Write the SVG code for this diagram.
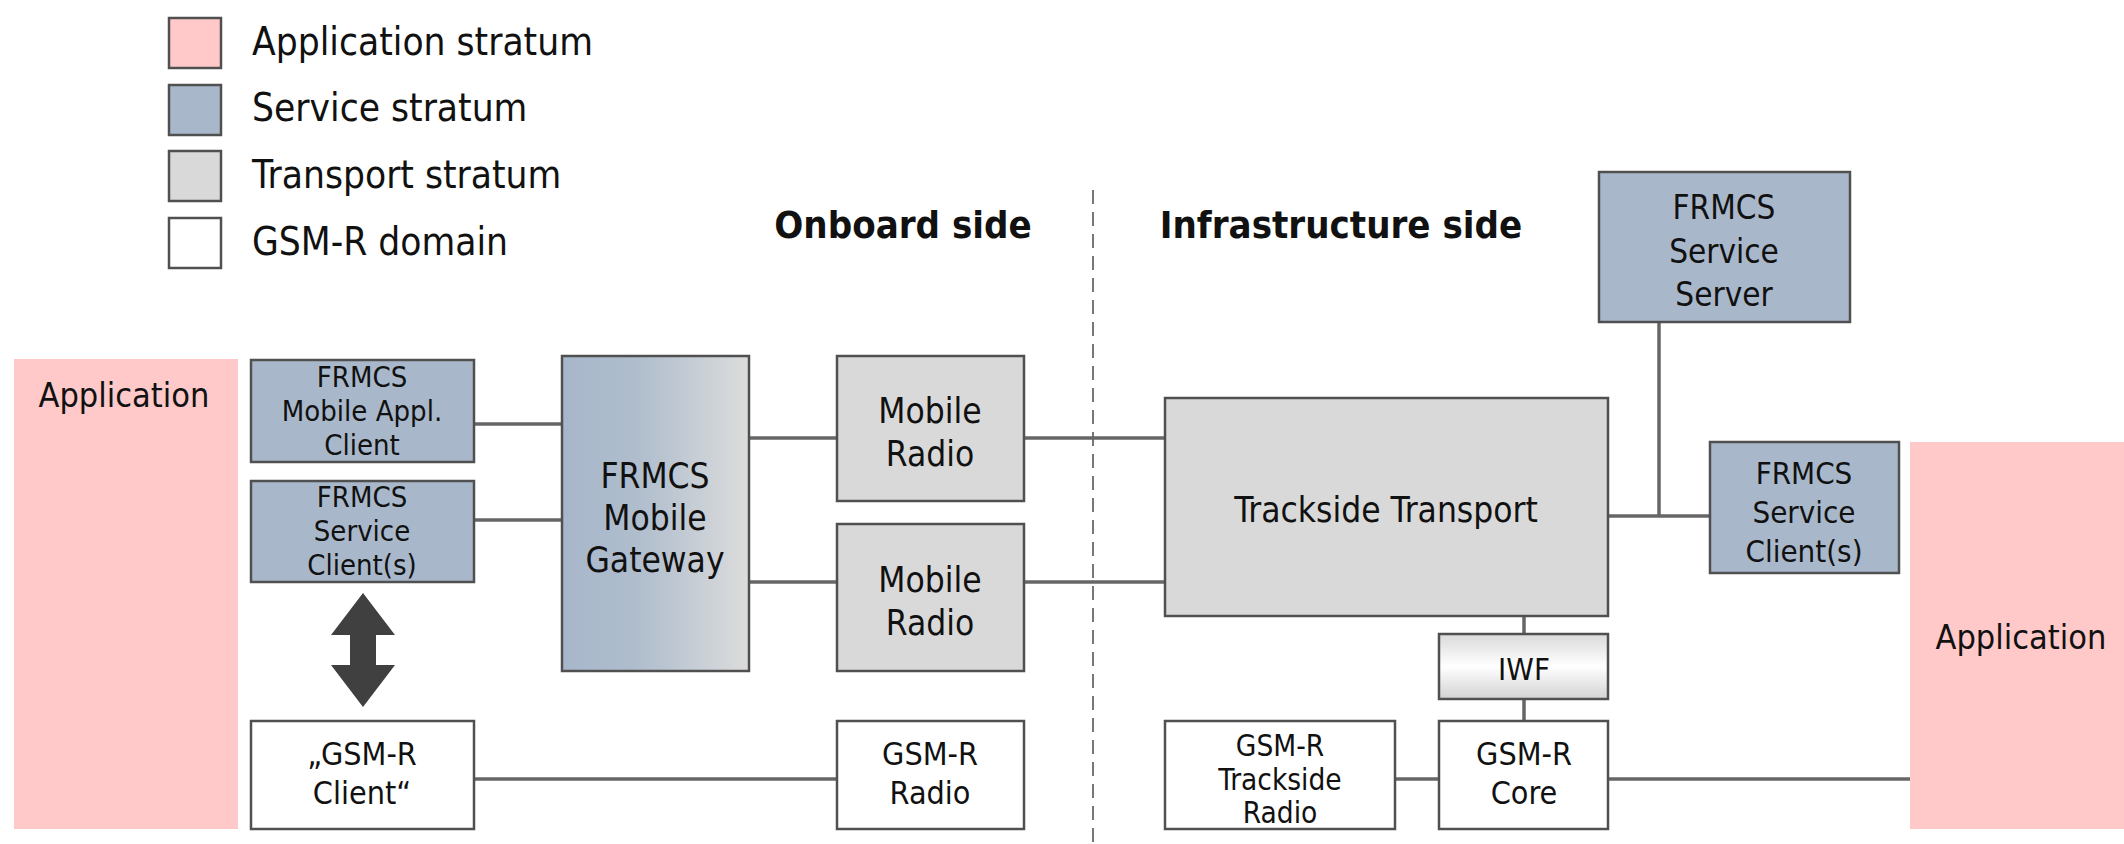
<svg xmlns="http://www.w3.org/2000/svg" width="2124" height="844" viewBox="0 0 2124 844">
<defs>
<style>
.box{stroke:#505050;stroke-width:2.5}
.app{fill:#ffc9c9}
.srv{fill:#a8b8ca}
.trn{fill:#d9d9d9}
.gsm{fill:#ffffff}
.t{font-family:"DejaVu Sans Condensed","DejaVu Sans",sans-serif;fill:#111;text-anchor:middle}
.lg{font-family:"DejaVu Sans Condensed","DejaVu Sans",sans-serif;fill:#111;font-size:38.5px}
.hd{font-family:"DejaVu Sans Condensed","DejaVu Sans",sans-serif;fill:#111;font-size:38px;font-weight:bold;text-anchor:middle}
.c{stroke:#666;stroke-width:3.5;fill:none}
</style>
<linearGradient id="gw" x1="0" y1="0" x2="1" y2="0">
<stop offset="0" stop-color="#a7b7ca"/>
<stop offset="0.4" stop-color="#afbdcd"/>
<stop offset="1" stop-color="#dcdcdc"/>
</linearGradient>
<linearGradient id="iwf" x1="0" y1="0" x2="0" y2="1">
<stop offset="0" stop-color="#dadada"/>
<stop offset="0.5" stop-color="#ffffff"/>
<stop offset="1" stop-color="#d2d2d2"/>
</linearGradient>
</defs>
<rect width="2124" height="844" fill="#fff"/>

<g id="legend">
<rect class="box app" x="169" y="18" width="52" height="50"/>
<rect class="box srv" x="169" y="85" width="52" height="50"/>
<rect class="box trn" x="169" y="151" width="52" height="50"/>
<rect class="box gsm" x="169" y="218" width="52" height="50"/>
<text class="lg" x="252" y="55">Application stratum</text>
<text class="lg" x="252" y="121">Service stratum</text>
<text class="lg" x="252" y="188">Transport stratum</text>
<text class="lg" x="252" y="255">GSM-R domain</text>
</g>

<g id="headings">
<text class="hd" x="903" y="238">Onboard side</text>
<text class="hd" x="1341" y="238">Infrastructure side</text>
<line x1="1093" y1="190" x2="1093" y2="844" stroke="#777" stroke-width="2" stroke-dasharray="14,8"/>
</g>

<g id="connectors">
<line class="c" x1="474" y1="424" x2="562" y2="424"/>
<line class="c" x1="474" y1="520" x2="562" y2="520"/>
<line class="c" x1="749" y1="438" x2="837" y2="438"/>
<line class="c" x1="749" y1="582" x2="837" y2="582"/>
<line class="c" x1="1024" y1="438" x2="1165" y2="438"/>
<line class="c" x1="1024" y1="582" x2="1165" y2="582"/>
<line class="c" x1="474" y1="779" x2="837" y2="779"/>
<line class="c" x1="1395" y1="779" x2="1439" y2="779"/>
<line class="c" x1="1608" y1="779" x2="1910" y2="779"/>
<line class="c" x1="1524" y1="616" x2="1524" y2="634"/>
<line class="c" x1="1524" y1="699" x2="1524" y2="721"/>
<line class="c" x1="1608" y1="516" x2="1710" y2="516"/>
<line class="c" x1="1659" y1="322" x2="1659" y2="516"/>
<path d="M363 593 L395 635 L376 635 L376 665 L395 665 L363 707 L331 665 L350 665 L350 635 L331 635 Z" fill="#404040"/>
</g>

<g id="app-left">
<rect class="app" x="14" y="359" width="224" height="470"/>
<text class="t" x="124" y="407" font-size="34">Application</text>
</g>

<g id="mobile-appl-client">
<rect class="box srv" x="251" y="360" width="223" height="102"/>
<text class="t" font-size="29"><tspan x="362" y="387">FRMCS</tspan><tspan x="362" y="421">Mobile Appl.</tspan><tspan x="362" y="455">Client</tspan></text>
</g>

<g id="service-client-left">
<rect class="box srv" x="251" y="481" width="223" height="101"/>
<text class="t" font-size="29"><tspan x="362" y="507">FRMCS</tspan><tspan x="362" y="541">Service</tspan><tspan x="362" y="575">Client(s)</tspan></text>
</g>

<g id="gsmr-client">
<rect class="box gsm" x="251" y="721" width="223" height="108"/>
<text class="t" font-size="32"><tspan x="362" y="765">„GSM-R</tspan><tspan x="362" y="804">Client“</tspan></text>
</g>

<g id="mobile-gateway">
<rect class="box" fill="url(#gw)" x="562" y="356" width="187" height="315"/>
<text class="t" font-size="35"><tspan x="655" y="488">FRMCS</tspan><tspan x="655" y="530">Mobile</tspan><tspan x="655" y="572">Gateway</tspan></text>
</g>

<g id="mobile-radio-1">
<rect class="box trn" x="837" y="356" width="187" height="145"/>
<text class="t" font-size="35"><tspan x="930" y="423">Mobile</tspan><tspan x="930" y="466">Radio</tspan></text>
</g>

<g id="mobile-radio-2">
<rect class="box trn" x="837" y="524" width="187" height="147"/>
<text class="t" font-size="35"><tspan x="930" y="592">Mobile</tspan><tspan x="930" y="635">Radio</tspan></text>
</g>

<g id="gsmr-radio">
<rect class="box gsm" x="837" y="721" width="187" height="108"/>
<text class="t" font-size="32"><tspan x="930" y="765">GSM-R</tspan><tspan x="930" y="804">Radio</tspan></text>
</g>

<g id="trackside-transport">
<rect class="box trn" x="1165" y="398" width="443" height="218"/>
<text class="t" x="1386" y="522" font-size="35">Trackside Transport</text>
</g>

<g id="service-server">
<rect class="box srv" x="1599" y="172" width="251" height="150"/>
<text class="t" font-size="33"><tspan x="1724" y="219">FRMCS</tspan><tspan x="1724" y="263">Service</tspan><tspan x="1724" y="306">Server</tspan></text>
</g>

<g id="service-client-right">
<rect class="box srv" x="1710" y="442" width="189" height="131"/>
<text class="t" font-size="31"><tspan x="1804" y="484">FRMCS</tspan><tspan x="1804" y="523">Service</tspan><tspan x="1804" y="562">Client(s)</tspan></text>
</g>

<g id="app-right">
<rect class="app" x="1910" y="442" width="214" height="387"/>
<text class="t" x="2021" y="649" font-size="34">Application</text>
</g>

<g id="iwf">
<rect class="box" fill="url(#iwf)" x="1439" y="634" width="169" height="65"/>
<text class="t" x="1524" y="680" font-size="31">IWF</text>
</g>

<g id="trackside-radio">
<rect class="box gsm" x="1165" y="721" width="230" height="108"/>
<text class="t" font-size="29.5"><tspan x="1280" y="756">GSM-R</tspan><tspan x="1280" y="790">Trackside</tspan><tspan x="1280" y="823">Radio</tspan></text>
</g>

<g id="gsmr-core">
<rect class="box gsm" x="1439" y="721" width="169" height="108"/>
<text class="t" font-size="32"><tspan x="1524" y="765">GSM-R</tspan><tspan x="1524" y="804">Core</tspan></text>
</g>
</svg>
